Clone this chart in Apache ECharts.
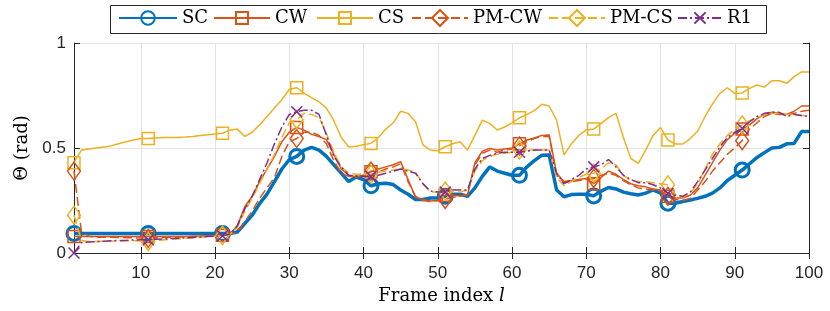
<!DOCTYPE html>
<html>
<head>
<meta charset="utf-8">
<script src="https://cdn.jsdelivr.net/npm/echarts@6/dist/echarts.min.js"></script>
<style>html,body{margin:0;padding:0;background:#fff;}#chart{width:830px;height:311px;}</style>
</head>
<body>
<div id="chart"></div>
<script>
// ---------- data ----------
const frames = Array.from({length: 100}, (_, i) => i + 1);
const markerFrames = [1, 11, 21, 31, 41, 51, 61, 71, 81, 91];
const xTicks = [10, 20, 30, 40, 50, 60, 70, 80, 90, 100];
const yTicks = [0, 0.5, 1];
const seriesNames = ['SC', 'CW', 'CS', 'PM-CW', 'PM-CS', 'R1'];

const SC = [
 0.093,0.093,0.093,0.093,0.093,0.093,0.093,0.093,0.093,0.093,
 0.093,0.093,0.093,0.093,0.093,0.093,0.093,0.093,0.093,0.093,
 0.093,0.093,0.10,0.14,0.18,0.235,0.28,0.34,0.40,0.445,
 0.46,0.49,0.503,0.49,0.46,0.42,0.38,0.34,0.362,0.35,
 0.32,0.33,0.332,0.326,0.30,0.28,0.255,0.255,0.262,0.262,
 0.27,0.28,0.28,0.27,0.31,0.365,0.41,0.39,0.38,0.37,
 0.37,0.41,0.44,0.465,0.467,0.30,0.268,0.278,0.28,0.28,
 0.272,0.295,0.312,0.305,0.29,0.282,0.276,0.285,0.30,0.285,
 0.237,0.237,0.245,0.252,0.26,0.27,0.285,0.31,0.345,0.37,
 0.395,0.425,0.455,0.478,0.50,0.503,0.52,0.522,0.578,0.578
];
const CW = [
 0.078,0.078,0.078,0.078,0.078,0.078,0.078,0.078,0.078,0.078,
 0.078,0.078,0.078,0.078,0.078,0.079,0.080,0.081,0.082,0.083,
 0.085,0.09,0.13,0.22,0.27,0.34,0.40,0.46,0.53,0.575,
 0.598,0.585,0.565,0.555,0.54,0.47,0.40,0.37,0.363,0.37,
 0.387,0.40,0.41,0.42,0.435,0.35,0.265,0.255,0.248,0.25,
 0.275,0.275,0.272,0.275,0.43,0.485,0.498,0.49,0.495,0.50,
 0.52,0.538,0.548,0.56,0.562,0.38,0.34,0.345,0.35,0.355,
 0.33,0.36,0.39,0.375,0.35,0.33,0.32,0.315,0.305,0.30,
 0.27,0.262,0.262,0.275,0.31,0.37,0.43,0.49,0.54,0.57,
 0.59,0.61,0.64,0.66,0.67,0.665,0.66,0.675,0.70,0.70
];
const CS = [
 0.43,0.49,0.495,0.50,0.505,0.51,0.52,0.53,0.538,0.545,
 0.545,0.548,0.55,0.55,0.55,0.552,0.555,0.56,0.563,0.567,
 0.57,0.585,0.59,0.555,0.575,0.61,0.65,0.69,0.73,0.78,
 0.787,0.76,0.74,0.72,0.69,0.63,0.55,0.505,0.508,0.515,
 0.522,0.55,0.59,0.62,0.675,0.665,0.625,0.515,0.49,0.487,
 0.506,0.52,0.53,0.49,0.56,0.633,0.617,0.586,0.60,0.62,
 0.644,0.66,0.678,0.708,0.70,0.633,0.467,0.52,0.56,0.586,
 0.59,0.617,0.645,0.665,0.55,0.45,0.427,0.49,0.56,0.598,
 0.538,0.519,0.519,0.545,0.58,0.65,0.71,0.76,0.787,0.76,
 0.762,0.784,0.80,0.79,0.82,0.82,0.808,0.84,0.862,0.862
];
const PM_CW = [
 0.39,0.10,0.08,0.075,0.075,0.075,0.074,0.073,0.072,0.071,
 0.07,0.072,0.074,0.075,0.076,0.077,0.078,0.079,0.080,0.082,
 0.085,0.09,0.10,0.15,0.20,0.26,0.31,0.36,0.46,0.53,
 0.545,0.575,0.575,0.56,0.52,0.44,0.38,0.365,0.36,0.37,
 0.39,0.385,0.40,0.41,0.425,0.34,0.27,0.25,0.245,0.25,
 0.255,0.265,0.27,0.28,0.42,0.475,0.49,0.48,0.49,0.495,
 0.51,0.53,0.545,0.555,0.555,0.37,0.335,0.34,0.345,0.35,
 0.355,0.37,0.38,0.37,0.345,0.325,0.31,0.305,0.30,0.295,
 0.27,0.255,0.25,0.26,0.30,0.34,0.39,0.43,0.47,0.50,
 0.535,0.59,0.62,0.65,0.665,0.66,0.66,0.665,0.675,0.68
];
const PM_CS = [
 0.18,0.06,0.055,0.055,0.056,0.057,0.057,0.058,0.058,0.057,
 0.055,0.06,0.062,0.065,0.067,0.07,0.072,0.075,0.077,0.08,
 0.085,0.09,0.12,0.20,0.26,0.33,0.40,0.47,0.55,0.62,
 0.635,0.665,0.66,0.645,0.57,0.48,0.41,0.38,0.375,0.375,
 0.375,0.385,0.39,0.395,0.40,0.395,0.385,0.33,0.29,0.29,
 0.295,0.29,0.29,0.30,0.39,0.44,0.46,0.47,0.475,0.48,
 0.49,0.49,0.49,0.49,0.49,0.36,0.32,0.34,0.36,0.375,
 0.38,0.40,0.43,0.42,0.37,0.345,0.34,0.34,0.335,0.33,
 0.325,0.28,0.265,0.285,0.33,0.40,0.47,0.52,0.56,0.59,
 0.61,0.63,0.645,0.66,0.665,0.665,0.66,0.66,0.655,0.65
];
const R1 = [
 0.0,0.05,0.052,0.054,0.056,0.058,0.06,0.06,0.062,0.063,
 0.063,0.065,0.067,0.069,0.07,0.072,0.074,0.076,0.078,0.08,
 0.082,0.09,0.13,0.21,0.27,0.35,0.43,0.52,0.60,0.66,
 0.673,0.68,0.68,0.66,0.56,0.46,0.41,0.37,0.365,0.365,
 0.365,0.37,0.38,0.39,0.40,0.39,0.38,0.33,0.295,0.29,
 0.29,0.30,0.30,0.30,0.40,0.45,0.465,0.475,0.48,0.48,
 0.48,0.485,0.49,0.49,0.49,0.38,0.33,0.35,0.37,0.40,
 0.41,0.42,0.445,0.41,0.37,0.35,0.335,0.335,0.325,0.31,
 0.284,0.275,0.27,0.29,0.34,0.395,0.45,0.506,0.55,0.575,
 0.594,0.625,0.65,0.665,0.67,0.67,0.65,0.66,0.655,0.65
];

// ---------- styles ----------
const BLUE = '#0072BD', ORANGE = '#D95319', YELLOW = '#EDB120', PURPLE = '#7E2F8E';
const AXIS = '#262626';
const XMARK = 'path://M0,0L10,10M10,0L0,10';
const styles = {
  'SC':    {values: SC,    color: BLUE,   width: 3.5, type: 'solid',       symbol: 'circle',  size: 14, bw: 3,   legendLeft: 118, iw: 58, ih: 17},
  'CW':    {values: CW,    color: ORANGE, width: 1.5, type: 'solid',       symbol: 'rect',    size: 12, bw: 1.5, legendLeft: 213, iw: 56, ih: 15},
  'CS':    {values: CS,    color: YELLOW, width: 1.5, type: 'solid',       symbol: 'rect',    size: 12, bw: 1.5, legendLeft: 316, iw: 56, ih: 15},
  'PM-CW': {values: PM_CW, color: ORANGE, width: 1.5, type: [9, 4],        symbol: 'diamond', size: [13, 18], bw: 1.5, legendLeft: 411, iw: 56, ih: 20},
  'PM-CS': {values: PM_CS, color: YELLOW, width: 1.5, type: [9, 4],        symbol: 'diamond', size: [13, 18], bw: 1.5, legendLeft: 548, iw: 56, ih: 20},
  'R1':    {values: R1,    color: PURPLE, width: 1.5, type: [9, 3, 2, 3],  symbol: XMARK,     size: 11, bw: 1.5, legendLeft: 677, iw: 44, ih: 14}
};

const series = seriesNames.map((name, k) => {
  const s = styles[name];
  return {
    name: name,
    type: 'line',
    z: 2 + k,
    data: s.values.map((v, i) => ({
      value: [frames[i], v],
      symbol: markerFrames.indexOf(frames[i]) >= 0 ? s.symbol : 'none'
    })),
    symbol: s.symbol,
    symbolSize: s.size,
    showSymbol: true,
    showAllSymbol: true,
    clip: false,
    lineStyle: {color: s.color, width: s.width, type: s.type},
    itemStyle: {color: 'rgba(0,0,0,0)', borderColor: s.color, borderWidth: s.bw},
    emphasis: {disabled: true},
    silent: true
  };
});

const legends = seriesNames.map((name) => {
  const s = styles[name];
  return {
    data: [name],
    left: s.legendLeft,
    top: 19 - Math.max(s.ih, 20) / 2,
    padding: 0,
    itemWidth: s.iw,
    itemHeight: s.ih,
    selectedMode: false,
    textStyle: {fontFamily: 'DejaVu Serif', fontSize: 18, color: '#000'}
  };
});

const chart = echarts.init(document.getElementById('chart'), null, {renderer: 'canvas'});
chart.setOption({
  animation: false,
  backgroundColor: '#fff',
  grid: {left: 74, right: 21, top: 43, bottom: 58, containLabel: false},
  legend: legends,
  graphic: [{
    type: 'rect', z: 100,
    shape: {x: 110.5, y: 5.5, width: 656, height: 28},
    style: {fill: 'none', stroke: AXIS, lineWidth: 1}
  }],
  xAxis: [{
    type: 'value', min: 1, max: 100, position: 'bottom',
    name: 'Frame index {i|l}', nameLocation: 'middle', nameGap: 33,
    nameTextStyle: {fontFamily: 'DejaVu Serif', fontSize: 18, color: '#000',
      rich: {i: {fontFamily: 'DejaVu Serif', fontStyle: 'italic', fontSize: 18, color: '#000'}}},
    axisLine: {show: true, lineStyle: {color: AXIS, width: 1}},
    axisTick: {show: true, inside: true, length: 6, customValues: xTicks, lineStyle: {color: AXIS}},
    axisLabel: {show: true, customValues: xTicks, margin: 12, fontFamily: 'Liberation Sans', fontSize: 17, color: AXIS},
    splitLine: {show: true, lineStyle: {color: '#e3e3e3', width: 1}}
  }, {
    type: 'value', min: 1, max: 100, position: 'top',
    axisLine: {show: true, lineStyle: {color: AXIS, width: 1}},
    axisTick: {show: true, inside: true, length: 6, customValues: xTicks, lineStyle: {color: AXIS}},
    axisLabel: {show: false},
    splitLine: {show: false}
  }],
  yAxis: [{
    type: 'value', min: 0, max: 1, interval: 0.5, position: 'left',
    name: 'Θ (rad)', nameLocation: 'middle', nameGap: 36, nameRotate: 90,
    nameTextStyle: {fontFamily: 'DejaVu Serif', fontSize: 18, color: '#000'},
    axisLine: {show: true, lineStyle: {color: AXIS, width: 1}},
    axisTick: {show: true, inside: true, length: 6, lineStyle: {color: AXIS}},
    axisLabel: {show: true, margin: 8, fontFamily: 'Liberation Sans', fontSize: 17, color: AXIS,
      formatter: (v) => String(yTicks.indexOf(v) >= 0 ? v : v)},
    splitLine: {show: true, lineStyle: {color: '#e3e3e3', width: 1}}
  }, {
    type: 'value', min: 0, max: 1, interval: 0.5, position: 'right',
    axisLine: {show: true, lineStyle: {color: AXIS, width: 1}},
    axisTick: {show: true, inside: true, length: 6, lineStyle: {color: AXIS}},
    axisLabel: {show: false},
    splitLine: {show: false}
  }],
  series: series
});
</script>
</body>
</html>
